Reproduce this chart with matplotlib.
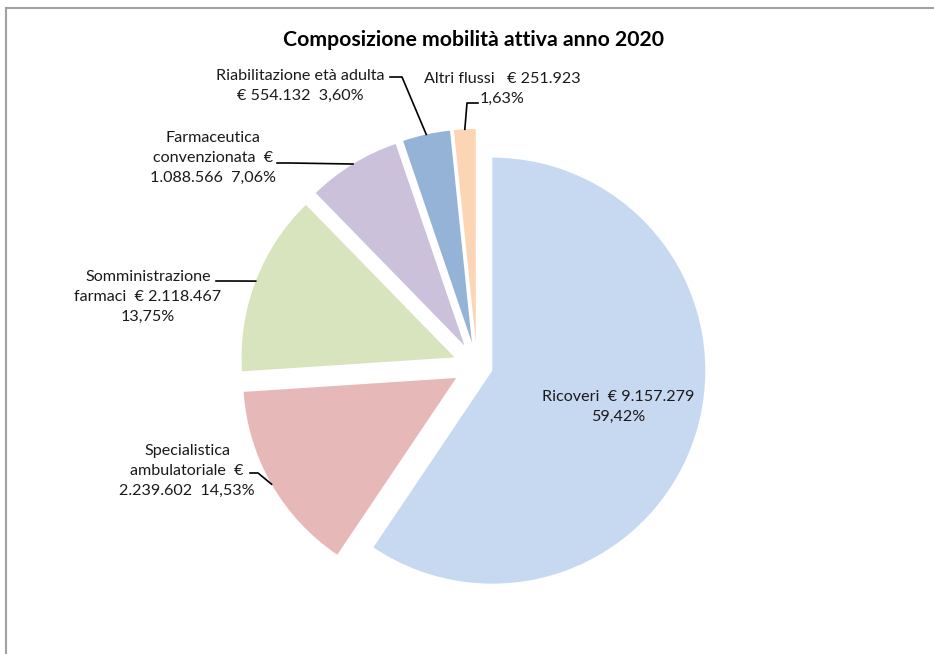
import numpy as np
import matplotlib.pyplot as plt
from matplotlib.lines import Line2D

plt.rcParams['font.family'] = ['Lato', 'DejaVu Sans']

categorie = ['Ricoveri', 'Specialistica ambulatoriale', 'Somministrazione farmaci',
             'Farmaceutica convenzionata', 'Riabilitazione età adulta', 'Altri flussi']
importi = np.array([9157279, 2239602, 2118467, 1088566, 554132, 251923])
colori = ['#C6D9F1', '#E6B9B8', '#D7E4BD', '#CCC1DA', '#95B3D7', '#FCD5B5']

# how Excel wrapped each data label
schemi = ['{n}  € {e}\n{p}',
          'Specialistica\nambulatoriale  €\n{e}  {p}',
          'Somministrazione\nfarmaci  € {e}\n{p}',
          'Farmaceutica\nconvenzionata  €\n{e}  {p}',
          '{n}\n€ {e}  {p}',
          '{n}   € {e}\n{p}']


def euro(v):
    return f"{v:,}".replace(',', '.')


def perc(v):
    return f"{v:.2f}%".replace('.', ',')


W, H = 934, 654
fig = plt.figure(figsize=(W / 100, H / 100), dpi=100)
ax = fig.add_axes([0, 0, 1, 1])

quote = importi / importi.sum() * 100
esplodi = [16] + [24] * (len(importi) - 1)
wedges, _ = ax.pie(importi, colors=colori, startangle=90, counterclock=False,
                   explode=esplodi, radius=213, center=(477, H - 366),
                   wedgeprops=dict(linewidth=0))
ax.set_xlim(0, W)
ax.set_ylim(0, H)
ax.set_aspect('equal')
ax.axis('off')

testi = [schemi[i].format(n=categorie[i], e=euro(importi[i]), p=perc(quote[i]))
         for i in range(len(categorie))]

# text centre (px) and leader start / elbow (px), None for label inside slice
pos_testo = [(618, 407), (187, 471), (148, 297), (213, 158), (300, 86), (502, 89)]
guide = [None,
         [(250, 473), (258, 473)],
         [(216, 281), (230, 281)],
         [(277, 163), (290, 163)],
         [(390, 77), (402, 77)],
         [(478, 103), (467, 103)]]

txt_col = '#1a1a1a'
for i, w in enumerate(wedges):
    tx, ty = pos_testo[i]
    ax.text(tx, H - ty, testi[i], ha='center', va='center', fontsize=11.6,
            color=txt_col, linespacing=1.58, multialignment='center')
    if guide[i] is None:
        continue
    tm = np.deg2rad((w.theta1 + w.theta2) / 2)
    cx, cy = w.center
    px, py = cx + w.r * np.cos(tm), cy + w.r * np.sin(tm)
    xs = [guide[i][0][0], guide[i][1][0], px]
    ys = [H - guide[i][0][1], H - guide[i][1][1], py]
    ax.plot(xs, ys, color='black', linewidth=1.2)

fig.text(473 / W, 1 - 40 / H, 'Composizione mobilità attiva anno 2020',
         ha='center', va='center', fontsize=15.3, fontweight='bold', color='black')

# chart area border (left and top visible)
fig.add_artist(Line2D([6 / W, 6 / W], [0, 1 - 7.5 / H], transform=fig.transFigure,
                      color='#A0A0A0', linewidth=1.5))
fig.add_artist(Line2D([6 / W, 1], [1 - 7.5 / H, 1 - 7.5 / H], transform=fig.transFigure,
                      color='#A0A0A0', linewidth=1.5))

fig.savefig('out.png', dpi=100)
